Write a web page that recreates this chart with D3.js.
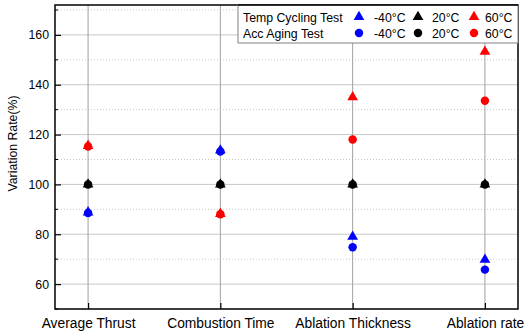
<!DOCTYPE html>
<html>
<head>
<meta charset="utf-8">
<script src="https://cdn.jsdelivr.net/npm/d3@7"></script>
<style>
  body { margin: 0; background: #fff; }
  text { font-family: "Liberation Sans", Arial, sans-serif; }
</style>
</head>
<body>
<div class="chart"></div>
<script>
const categories = ['Average Thrust', 'Combustion Time', 'Ablation Thickness', 'Ablation rate'];
const temps = ['-40°C', '20°C', '60°C'];
const colors = ['#0000ff', '#000000', '#ff0000'];

// variation rate (%) per category, one array per temperature
const cycling = {
  '-40°C': [88.8, 113.6, 79, 69.8],
  '20°C': [100, 100, 100, 100],
  '60°C': [115.5, 88.2, 135, 153.3]
};
const aging = {
  '-40°C': [88.5, 113.2, 74.8, 65.8],
  '20°C': [100, 100, 100, 100],
  '60°C': [115.2, 88, 118, 133.6]
};

const yTicks = [60, 80, 100, 120, 140, 160];
const yMinor = [50, 70, 90, 110, 130, 150, 170];

const width = 524, height = 332;
const margin = { top: 5, right: 6, bottom: 23, left: 55 };

const svg = d3.select('.chart')
  .append('svg')
  .attr('width', width)
  .attr('height', height);

const x = d3.scaleLinear()
  .domain([0.75, categories.length + 0.25])
  .range([margin.left, width - margin.right]);

const y = d3.scaleLinear()
  .domain([50, 172])
  .range([height - margin.bottom, margin.top]);

// grid
svg.append('g')
  .selectAll('line')
  .data(yMinor)
  .join('line')
  .attr('x1', margin.left).attr('x2', width - margin.right)
  .attr('y1', d => y(d)).attr('y2', d => y(d))
  .attr('stroke', '#c8c8c8')
  .attr('stroke-dasharray', '1,2');

svg.append('g')
  .selectAll('line')
  .data(yTicks)
  .join('line')
  .attr('x1', margin.left).attr('x2', width - margin.right)
  .attr('y1', d => y(d)).attr('y2', d => y(d))
  .attr('stroke', '#c8c8c8');

svg.append('g')
  .selectAll('line')
  .data(categories)
  .join('line')
  .attr('x1', (d, i) => x(i + 1)).attr('x2', (d, i) => x(i + 1))
  .attr('y1', margin.top).attr('y2', height - margin.bottom)
  .attr('stroke', '#a0a0a0');

// axes
const yAxis = svg.append('g')
  .attr('transform', `translate(${margin.left},0)`)
  .call(d3.axisRight(y).tickValues(yTicks).tickSize(6).tickFormat(d3.format('d')));
yAxis.select('.domain').remove();
yAxis.selectAll('.tick line').attr('stroke', '#000').attr('stroke-width', 1.2);
yAxis.selectAll('.tick text')
  .attr('x', -6)
  .attr('text-anchor', 'end')
  .attr('font-size', 12.3)
  .attr('fill', '#000');

svg.append('g')
  .selectAll('line')
  .data(yMinor)
  .join('line')
  .attr('x1', margin.left).attr('x2', margin.left + 3)
  .attr('y1', d => y(d)).attr('y2', d => y(d))
  .attr('stroke', '#000');

const xAxis = svg.append('g')
  .attr('transform', `translate(0,${height - margin.bottom})`)
  .call(d3.axisTop(x).tickValues([1, 2, 3, 4]).tickSize(6).tickFormat(d => categories[d - 1]));
xAxis.select('.domain').remove();
xAxis.selectAll('.tick line').attr('stroke', '#000').attr('stroke-width', 1.2);
xAxis.selectAll('.tick text')
  .attr('y', 18.5)
  .attr('dy', 0)
  .attr('font-size', 13.8)
  .attr('fill', '#000');

// frame
svg.append('rect')
  .attr('x', margin.left).attr('y', margin.top)
  .attr('width', width - margin.left - margin.right)
  .attr('height', height - margin.top - margin.bottom)
  .attr('fill', 'none')
  .attr('stroke', '#000')
  .attr('stroke-width', 1.5);

svg.append('text')
  .attr('transform', 'translate(17,143.5) rotate(-90)')
  .attr('text-anchor', 'middle')
  .attr('font-size', 12.3)
  .attr('fill', '#000')
  .text('Variation Rate(%)');

// markers
const tri = d3.symbol().type(d3.symbolTriangle).size(50);
const circ = d3.symbol().type(d3.symbolCircle).size(56);

temps.forEach((t, k) => {
  svg.append('g')
    .selectAll('path')
    .data(aging[t])
    .join('path')
    .attr('d', circ)
    .attr('transform', (d, i) => `translate(${x(i + 1)},${y(d)})`)
    .attr('fill', colors[k]);
});
temps.forEach((t, k) => {
  svg.append('g')
    .selectAll('path')
    .data(cycling[t])
    .join('path')
    .attr('d', tri)
    .attr('transform', (d, i) => `translate(${x(i + 1)},${y(d)})`)
    .attr('fill', colors[k]);
});

// legend
const lg = svg.append('g');
lg.append('rect')
  .attr('x', 238).attr('y', margin.top)
  .attr('width', width - margin.right - 238)
  .attr('height', 38)
  .attr('fill', '#fff')
  .attr('stroke', '#808080');
svg.append('line')
  .attr('x1', 238).attr('x2', width - margin.right)
  .attr('y1', margin.top).attr('y2', margin.top)
  .attr('stroke', '#000').attr('stroke-width', 1.5);

const rows = [['Temp Cycling Test', tri], ['Acc Aging Test', circ]];
const symX = [359, 418, 474];
const labX = [374, 432, 485];
rows.forEach((r, j) => {
  const yy = 17 + j * 16;
  lg.append('text')
    .attr('x', 243).attr('y', yy + 4.5)
    .attr('font-size', 12.3)
    .attr('fill', '#000')
    .text(r[0]);
  temps.forEach((t, k) => {
    lg.append('path')
      .attr('d', r[1])
      .attr('transform', `translate(${symX[k]},${yy})`)
      .attr('fill', colors[k]);
    lg.append('text')
      .attr('x', labX[k]).attr('y', yy + 4.5)
      .attr('font-size', 12.3)
      .attr('fill', '#000')
      .text(t);
  });
});
</script>
</body>
</html>
